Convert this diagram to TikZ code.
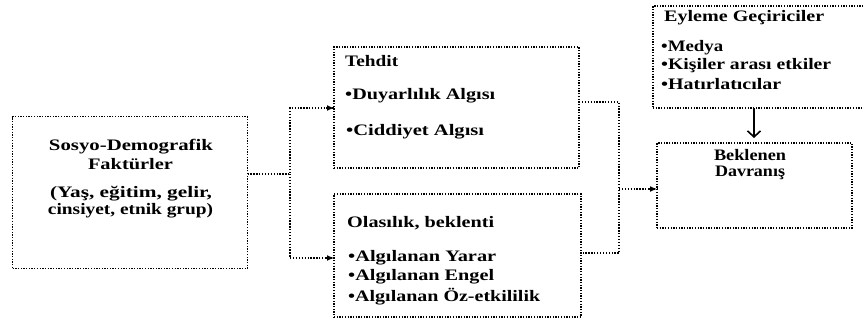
\documentclass[tikz,border=0pt]{standalone}
\usepackage{graphicx}
\usepackage{fontspec}
\newfontfamily\diafont{Liberation Serif Bold}
\newcommand\fitw[2]{\resizebox{#1}{\height}{#2}}
\usetikzlibrary{arrows.meta,calc}
\tikzset{
  box/.style={draw, line width=1.3pt, dash pattern=on 1.3pt off 1.4pt, inner sep=0pt, outer sep=0pt},
  conn/.style={line width=1.3pt, dash pattern=on 1.3pt off 1.6pt},
  tipline/.style={line width=1.3pt, -{Latex[length=7pt,width=6pt]}},
  txt/.style={font=\diafont\fontsize{16}{18}\selectfont, inner sep=0pt, anchor=west},
  ctxt/.style={font=\diafont\fontsize{16}{18}\selectfont, inner sep=0pt},
}
\begin{document}
\begin{tikzpicture}[x=1pt,y=-1pt]
\useasboundingbox (0,0) rectangle (864,325);
\clip (0,0) rectangle (864,325);
% boxes
\node[box, minimum width=235pt, minimum height=152pt] (src) at (130,192.5) {};
\node[box, minimum width=245pt, minimum height=121pt] (teh) at (456.5,107.5) {};
\node[box, minimum width=247pt, minimum height=123pt] (ola) at (457.5,255.5) {};
\node[box, minimum width=195pt, minimum height=85pt] (bek) at (754.5,185.5) {};
\node[box, minimum width=227pt, minimum height=102pt] (eyl) at (766.5,57) {};
% texts
\node[ctxt] (s1) at (131,147) {\fitw{164pt}{Sosyo-Demografik}};
\node[ctxt] (s2) at (130.5,164) {\fitw{85pt}{Faktürler}};
\node[ctxt] (s3) at (131,194) {\fitw{162pt}{(Yaş, eğitim, gelir,}};
\node[ctxt] (s4) at (130.5,211) {\fitw{165pt}{cinsiyet, etnik grup)}};
\node[txt] (t1) at (345,61) {\fitw{53pt}{Tehdit}};
\node[txt] (t2) at (345,96) {\fitw{150pt}{•Duyarlılık Algısı}};
\node[txt] (t3) at (346,132) {\fitw{138pt}{•Ciddiyet Algısı}};
\node[txt] (o1) at (347,223) {\fitw{147pt}{Olasılık, beklenti}};
\node[txt] (o2) at (348,258) {\fitw{148pt}{•Algılanan Yarar}};
\node[txt] (o3) at (348,277) {\fitw{146pt}{•Algılanan Engel}};
\node[txt] (o4) at (348,297) {\fitw{192pt}{•Algılanan Öz-etkililik}};
\node[txt] (e1) at (664,18) {\fitw{160pt}{Eyleme Geçiriciler}};
\node[txt] (e2) at (661,48) {\fitw{62pt}{•Medya}};
\node[txt] (e3) at (661,66) {\fitw{170pt}{•Kişiler arası etkiler}};
\node[txt] (e4) at (661,84) {\fitw{120pt}{•Hatırlatıcılar}};
\node[ctxt] (b1) at (750,155) {\fitw{72pt}{Beklenen}};
\node[ctxt] (b2) at (750,173) {\fitw{70pt}{Davranış}};
% connectors
\coordinate (jl) at (290,174);
\coordinate (jlt) at (290,108);
\coordinate (jlb) at (290,258);
\draw[conn] (jl -| src.east) -- (jl) -- (jlt) -- (jlt -| teh.west);
\draw[conn] (jl) -- (jlb) -- (jlb -| ola.west);
\draw[tipline] ($(jlt -| teh.west)+(-8,0)$) -- (jlt -| teh.west);
\draw[tipline] ($(jlb -| ola.west)+(-8,0)$) -- (jlb -| ola.west);
\coordinate (jrt) at (619,102);
\coordinate (jrb) at (619,253);
\coordinate (jr) at (619,189);
\draw[conn] (jrt -| teh.east) -- (jrt) -- (jrb) -- (jrb -| ola.east);
\draw[conn] (jr) -- (jr -| bek.west);
\draw[tipline] ($(jr -| bek.west)+(-8,0)$) -- (jr -| bek.west);
\coordinate (da) at (754,0);
\draw[line width=1.6pt, shorten >=5pt, -{Straight Barb[length=6pt,width=13pt]}] (da |- eyl.south) -- (da |- bek.north);
\end{tikzpicture}
\end{document}
